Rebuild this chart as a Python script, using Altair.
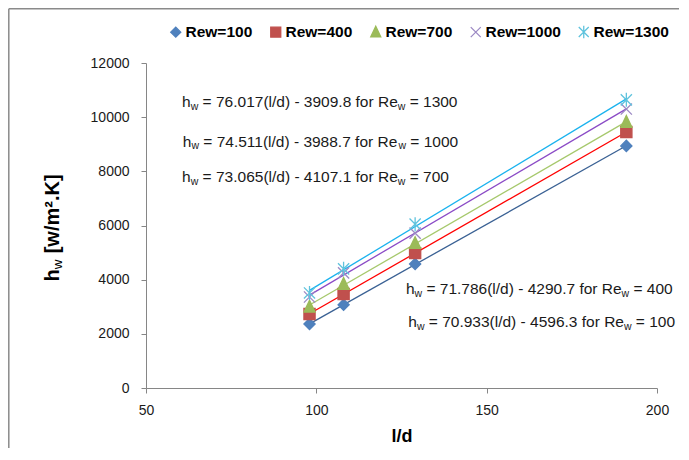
import altair as alt
import pandas as pd

# ---------------- data ----------------
ld = [98, 108, 129, 191]
series = ["Rew=100", "Rew=400", "Rew=700", "Rew=1000", "Rew=1300"]
hw_100 = [2360, 3070, 4580, 8940]
hw_400 = [2730, 3470, 4980, 9450]
hw_700 = [3000, 3840, 5350, 9820]
hw_1000 = [3360, 4250, 5720, 10300]
hw_1300 = [3510, 4400, 6050, 10640]

eq_slope = ["76.017", "74.511", "73.065", "71.786", "70.933"]
eq_icpt = ["3909.8", "3988.7", "4107.1", "4290.7", "4596.3"]
eq_re = ["1300", "1000", "700", "400", "100"]
eq_x = [60.6, 60.8, 60.6, 126.3, 127.0]
eq_y = [10560, 9085, 7790, 3637, 2420]

x_ticks = [50, 100, 150, 200]
y_ticks = [0, 2000, 4000, 6000, 8000, 10000, 12000]

# ---------------- styles ----------------
marker_fill = ["#4F81BD", "#C0504D", "#9BBB59", "#8064A2", "#4BACC6"]
marker_stroke = ["#4F81BD", "#C0504D", "#9BBB59", "#9C89C4", "#5FC3DD"]
line_colors = ["#3A6194", "#FF0000", "#A6C86C", "#8B4BC6", "#1AB2EE"]
shapes = ["diamond", "square", "M0,-1.15L1,0.95L-1,0.95Z",
          "M-1,-1L1,1M-1,1L1,-1", "M-1,-1L1,1M-1,1L1,-1M0,-1.25L0,1.25"]

FONT = "Liberation Sans"
TXT = "#1a1a1a"
W, H = 511, 325

rows = []
for s, vals in zip(series, [hw_100, hw_400, hw_700, hw_1000, hw_1300]):
    for x, v in zip(ld, vals):
        rows.append({"series": s, "ld": x, "hw": v})
df = pd.DataFrame(rows)
fit_names = [s + " fit" for s in series]

# Arial / Liberation Sans advance widths (1/1000 em)
AW = {" ": 278, "(": 333, ")": 333, "-": 333, ".": 278, "/": 278, "=": 584,
      "R": 722, "d": 556, "e": 556, "f": 278, "h": 556, "l": 222, "o": 556,
      "r": 333, "w": 722}
for c in "0123456789":
    AW[c] = 556
AWB = {"h": 611, "w": 778, " ": 278, "[": 333, "m": 889, "/": 278, "\u00b2": 333,
       ".": 278, "K": 722, "]": 333}


def tw(s, size, table):
    return sum(table[c] for c in s) * size / 1000.0


FS, FSS = 15.5, 10.5
ann = pd.DataFrame({
    "ex": eq_x, "ey": eq_y,
    "s0": ["h"] * 5,
    "s1": ["w"] * 5,
    "s2": [f"= {a}(l/d) - {b} for Re" for a, b in zip(eq_slope, eq_icpt)],
    "s3": ["w"] * 5,
    "s4": [f"= {r}" for r in eq_re],
})
sp = tw(" ", FS, AW)
o1 = tw("h", FS, AW)
o2 = o1 + tw("w", FSS, AW) + sp
o3 = o2 + tw(ann["s2"][0], FS, AW)
o4 = o3 + tw("w", FSS, AW) + sp

xs = alt.Scale(domain=[50, 200], nice=False, zero=False)
ys = alt.Scale(domain=[0, 12000], nice=False)

x_axis = alt.Axis(values=x_ticks, format="d", title="l/d", grid=False, labelFlush=False)
y_axis = alt.Axis(values=y_ticks, format="d", title=None, grid=False, labelFlush=False)

legend = alt.Legend(orient="none", legendX=22, legendY=-39, direction="horizontal", title=None)

base = alt.Chart(df)

lines = base.transform_regression("ld", "hw", groupby=["series"]).transform_calculate(
    fit="datum.series + ' fit'"
).mark_line(strokeWidth=1.3).encode(
    x=alt.X("ld:Q", scale=xs, axis=x_axis),
    y=alt.Y("hw:Q", scale=ys, axis=y_axis),
    color=alt.Color("fit:N", scale=alt.Scale(domain=fit_names, range=line_colors), legend=None),
)

points = base.mark_point(filled=True, opacity=1, size=125, strokeWidth=1.3).encode(
    x=alt.X("ld:Q", scale=xs, axis=x_axis),
    y=alt.Y("hw:Q", scale=ys, axis=y_axis),
    fill=alt.Fill("series:N", scale=alt.Scale(domain=series, range=marker_fill), legend=legend),
    stroke=alt.Stroke("series:N", scale=alt.Scale(domain=series, range=marker_stroke), legend=legend),
    shape=alt.Shape("series:N", scale=alt.Scale(domain=series, range=shapes), legend=legend),
)

abase = alt.Chart(ann).encode(
    x=alt.X("ex:Q", scale=xs, axis=x_axis),
    y=alt.Y("ey:Q", scale=ys, axis=y_axis),
)
ann_layers = [
    abase.mark_text(align="left", baseline="middle", font=FONT, fontSize=FS, color=TXT).encode(text="s0:N"),
    abase.mark_text(align="left", baseline="middle", font=FONT, fontSize=FSS, color=TXT, dx=o1, dy=4.5).encode(text="s1:N"),
    abase.mark_text(align="left", baseline="middle", font=FONT, fontSize=FS, color=TXT, dx=o2).encode(text="s2:N"),
    abase.mark_text(align="left", baseline="middle", font=FONT, fontSize=FSS, color=TXT, dx=o3, dy=4.5).encode(text="s3:N"),
    abase.mark_text(align="left", baseline="middle", font=FONT, fontSize=FS, color=TXT, dx=o4).encode(text="s4:N"),
]

# rotated y-axis title with subscript
YT, YTS = 20, 13.5
yt_parts = ["h", "w", "[w/m\u00b2.K]"]
L = tw("h", YT, AWB) + tw("w", YTS, AWB) + tw(" ", YT, AWB) + tw(yt_parts[2], YT, AWB)
ycx, ycy = -93, 165
ystart = ycy + L / 2
tdf = pd.DataFrame({"t0": [yt_parts[0]], "t1": [yt_parts[1]], "t2": [yt_parts[2]]})
tbase = alt.Chart(tdf).encode(x=alt.value(ycx), y=alt.value(ystart))
yt_layers = [
    tbase.mark_text(angle=270, align="left", baseline="middle", font=FONT, fontSize=YT,
                    fontWeight="bold", color="#000").encode(text="t0:N"),
    tbase.mark_text(angle=270, align="left", baseline="middle", font=FONT, fontSize=YTS,
                    color="#000", dx=tw("h", YT, AWB), dy=5).encode(text="t1:N"),
    tbase.mark_text(angle=270, align="left", baseline="middle", font=FONT, fontSize=YT,
                    fontWeight="bold", color="#000",
                    dx=tw("h", YT, AWB) + tw("w", YTS, AWB) + tw(" ", YT, AWB)).encode(text="t2:N"),
]

# outer chart frame (left and top edges)
fdf = pd.DataFrame({"k": [0]})
frame_left = alt.Chart(fdf).mark_rule(color="#8a8a8a", strokeWidth=1.5).encode(
    x=alt.value(-137.2), y=alt.value(-54.2), y2=alt.value(H + 70))
frame_top = alt.Chart(fdf).mark_rule(color="#8a8a8a", strokeWidth=1.5).encode(
    x=alt.value(-137.2), x2=alt.value(W + 30), y=alt.value(-54.2))

chart = alt.layer(
    frame_left, frame_top, lines, points, *ann_layers, *yt_layers
).properties(
    width=W, height=H,
    padding={"left": 138, "top": 55, "right": 22, "bottom": 60},
    autosize=alt.AutoSizeParams(type="none"),
    background="white",
).configure_view(
    stroke="transparent"
).configure_axis(
    domainColor="#868686", tickColor="#868686", domainWidth=1, tickWidth=1, tickSize=5,
    labelFont=FONT, labelFontSize=14, labelColor=TXT,
    titleFont=FONT, titleFontSize=18, titleFontWeight="bold", titleColor="#000",
).configure_axisX(
    labelPadding=10, titlePadding=10,
).configure_axisY(
    labelPadding=12,
).configure_legend(
    labelFont=FONT, labelFontSize=15.5, labelFontWeight="bold", labelColor="#000",
    labelOffset=2, columnPadding=15, symbolSize=100, symbolStrokeWidth=1.3,
    padding=0,
)

chart.save("out.html", embed_options={"renderer": "svg", "actions": False})
